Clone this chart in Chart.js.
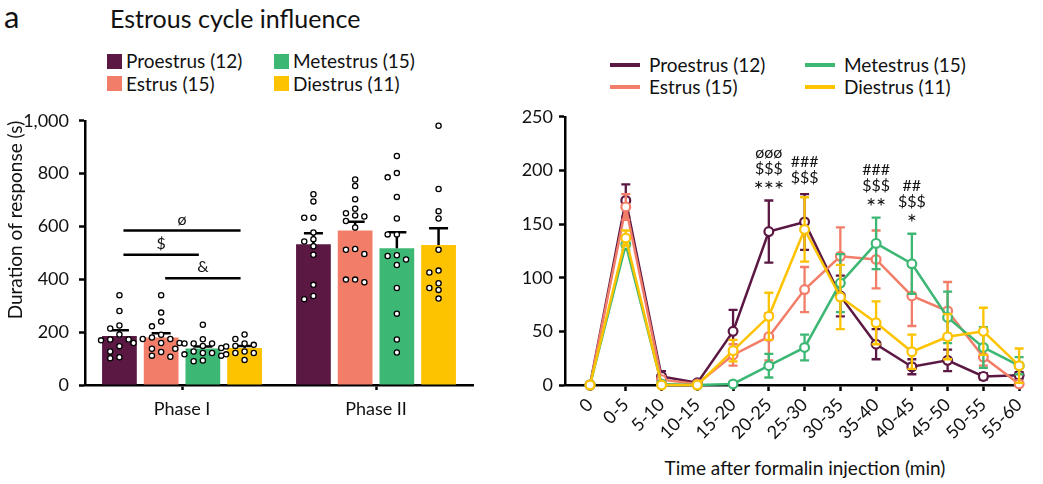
<!DOCTYPE html>
<html>
<head>
<meta charset="utf-8">
<script src="https://cdn.jsdelivr.net/npm/chart.js@4.4.1/dist/chart.umd.min.js"></script>
<style>
  body { margin: 0; width: 1043px; height: 484px; position: relative; overflow: hidden; background: #fff; font-family: Lato, sans-serif; color: #111; }
  .txt { position: absolute; white-space: nowrap; }
  .box { position: absolute; top: 100px; height: 384px; }
  #leftBox { left: 0; width: 500px; }
  #rightBox { left: 520px; width: 523px; }
  .leg { position: absolute; height: 22px; line-height: 22px; display: flex; align-items: center; font-size: 19px; white-space: nowrap; }
  .sq { width: 15px; height: 15px; margin-right: 4px; }
  .ln { width: 30px; height: 3.5px; margin-right: 9px; }
</style>
</head>
<body>
<div class="txt" style="left:4px; top:-1px; font-size:31px; line-height:34px;">a</div>
<div class="txt" style="left:110px; top:3px; font-size:25px; line-height:30px;">Estrous cycle influence</div>
<div class="txt" style="left:805px; top:456px; font-size:19px; line-height:24px; transform:translateX(-50%);">Time after formalin injection (min)</div>
<div class="box" id="leftBox"><canvas id="barChart"></canvas></div>
<div class="box" id="rightBox"><canvas id="lineChart"></canvas></div>
<script>
// ---------- data ----------
const stages = ['Proestrus (12)', 'Estrus (15)', 'Metestrus (15)', 'Diestrus (11)'];
const stageColors = ['#5b1843', '#f27d68', '#3db874', '#fdc300'];

// left panel: [Phase I, Phase II]
const phases = ['Phase I', 'Phase II'];
const meanProestrus = [185, 533];
const meanEstrus = [180, 585];
const meanMetestrus = [138, 518];
const meanDiestrus = [140, 530];
const semProestrus = [22, 41];
const semEstrus = [16, 33];
const semMetestrus = [8, 60];
const semDiestrus = [8, 63];

// individual animals
const dotsProestrus = [
  [340, 280, 225, 214, 191, 172, 172, 169, 147, 127, 105, 101],
  [722, 695, 633, 633, 577, 552, 543, 525, 493, 379, 337, 325]
];
const dotsEstrus = [
  [340, 274, 240, 222, 190, 180, 174, 174, 159, 159, 159, 137, 125, 111, 107],
  [778, 753, 703, 667, 650, 642, 638, 621, 596, 515, 512, 496, 399, 399, 389]
];
const dotsMetestrus = [
  [228, 173, 157, 157, 157, 148, 140, 137, 127, 121, 121, 116, 111, 93, 90],
  [867, 802, 786, 712, 630, 570, 570, 491, 488, 475, 454, 367, 270, 172, 123]
];
const dotsDiestrus = [
  [191, 174, 157, 152, 148, 146, 127, 121, 121, 116, 95],
  [981, 742, 658, 630, 512, 433, 426, 385, 367, 360, 327]
];

// significance bars (phase I): dataset pairs, symbol, height
const compPairs = [[0, 3], [0, 2], [1, 3]];
const compSymbols = ['ø', '$', '&'];
const compLevels = [585, 493, 404];

// right panel: time course
const timeLabels = ['0', '0-5', '5-10', '10-15', '15-20', '20-25', '25-30', '30-35', '35-40', '40-45', '45-50', '50-55', '55-60'];
const proestrus = [0, 172, 8, 2, 50, 143, 152, 83, 38, 17, 23, 8, 9];
const proestrusSem = [0, 15, 5, 2, 20, 29, 26, 19, 14, 7, 10, 3, 3];
const estrus = [0, 166, 5, 1, 28, 45, 89, 120, 117, 83, 69, 26, 1];
const estrusSem = [0, 12, 3, 1, 10, 22, 21, 27, 27, 28, 27, 8, 2];
const metestrus = [0, 131, 1, 0, 1, 18, 35, 95, 132, 113, 63, 35, 18];
const metestrusSem = [0, 5, 1, 0, 1, 11, 12, 27, 24, 28, 24, 19, 8];
const diestrus = [0, 137, 0, 0, 32, 64, 145, 82, 58, 31, 45, 50, 18];
const diestrusSem = [0, 7, 0, 0, 10, 22, 30, 30, 20, 16, 21, 22, 16];

const sigIndex = [5, 6, 8, 9];
const sigText = [['øøø', '$$$', '***'], ['###', '$$$'], ['###', '$$$', '**'], ['##', '$$$', '*']];

const barMeans = [meanProestrus, meanEstrus, meanMetestrus, meanDiestrus];
const barSems = [semProestrus, semEstrus, semMetestrus, semDiestrus];
const barDots = [dotsProestrus, dotsEstrus, dotsMetestrus, dotsDiestrus];
const lineVals = [proestrus, estrus, metestrus, diestrus];
const lineSems = [proestrusSem, estrusSem, metestrusSem, diestrusSem];
const lineOrder = [3, 2, 1, 0]; // diestrus drawn on top

// ---------- legends (html) ----------
function addLegend(x0, colGap, yCenter, rowGap, marker) {
  stages.forEach((name, i) => {
    const col = Math.floor(i / 2), row = i % 2;
    const item = document.createElement('div');
    item.className = 'leg';
    item.style.left = (x0 + col * colGap) + 'px';
    item.style.top = (yCenter - 11 + row * rowGap) + 'px';
    const sw = document.createElement('span');
    sw.className = marker;
    sw.style.background = stageColors[i];
    item.appendChild(sw);
    item.appendChild(document.createTextNode(name));
    document.body.appendChild(item);
  });
}
addLegend(107, 167, 61, 22.5, 'sq');
addLegend(610, 195, 65, 22, 'ln');

Chart.defaults.font.family = 'Lato';
Chart.defaults.font.size = 18;
Chart.defaults.color = '#111';

const axisGrid = { drawOnChartArea: false, offset: false, tickLength: 6, tickWidth: 2.5, tickColor: '#000' };
const axisBorder = { color: '#000', width: 2.5 };

// spread dots sideways when they overlap
function swarm(values, yScale) {
  const placed = [];
  const gap = 9.2;
  values.forEach(v => {
    const py = yScale.getPixelForValue(v);
    for (let k = 0; k < 30; k++) {
      const dx = (k % 2 ? -1 : 1) * Math.ceil(k / 2) * gap;
      if (placed.every(([px, qy]) => Math.hypot(px - dx, qy - py) >= 6.2)) {
        placed.push([dx, py]);
        break;
      }
    }
  });
  return placed;
}

const barExtras = {
  id: 'barExtras',
  afterDatasetsDraw(chart) {
    const { ctx } = chart;
    const y = chart.scales.y;
    ctx.save();
    chart.data.datasets.forEach((ds, di) => {
      chart.getDatasetMeta(di).data.forEach((bar, pi) => {
        const top = y.getPixelForValue(ds.data[pi] + ds.sem[pi]);
        ctx.strokeStyle = '#000';
        ctx.lineWidth = 2.5;
        ctx.beginPath();
        ctx.moveTo(bar.x, bar.y);
        ctx.lineTo(bar.x, top);
        ctx.moveTo(bar.x - 9.5, top);
        ctx.lineTo(bar.x + 9.5, top);
        ctx.stroke();
        swarm(ds.dots[pi], y).forEach(([dx, py]) => {
          ctx.beginPath();
          ctx.arc(bar.x + dx, py, 2.6, 0, Math.PI * 2);
          ctx.fillStyle = '#fff';
          ctx.fill();
          ctx.lineWidth = 1.3;
          ctx.stroke();
        });
      });
    });
    ctx.font = '16px Lato';
    ctx.fillStyle = '#111';
    ctx.textAlign = 'center';
    ctx.textBaseline = 'middle';
    compPairs.forEach(([a, b], k) => {
      const x1 = chart.getDatasetMeta(a).data[0].x + 4;
      const x2 = chart.getDatasetMeta(b).data[0].x - 4;
      const py = y.getPixelForValue(compLevels[k]);
      ctx.lineWidth = 2.5;
      ctx.beginPath();
      ctx.moveTo(x1, py);
      ctx.lineTo(x2, py);
      ctx.stroke();
      ctx.fillText(compSymbols[k], (x1 + x2) / 2, py - 11);
    });
    ctx.restore();
  }
};

new Chart(document.getElementById('barChart'), {
  type: 'bar',
  data: {
    labels: phases,
    datasets: stages.map((s, i) => ({
      label: s,
      data: barMeans[i],
      backgroundColor: stageColors[i],
      sem: barSems[i],
      dots: barDots[i]
    }))
  },
  options: {
    responsive: true,
    maintainAspectRatio: false,
    animation: false,
    layout: { padding: { top: 15, right: 27, left: 0, bottom: 0 } },
    datasets: { bar: { categoryPercentage: 0.86, barPercentage: 0.833 } },
    plugins: { legend: { display: false }, tooltip: { enabled: false } },
    scales: {
      x: {
        type: 'category',
        offset: true,
        ticks: { padding: 8, maxRotation: 0 },
        grid: { ...axisGrid, tickLength: 5 },
        border: axisBorder,
        afterFit: s => { s.height = 99; }
      },
      y: {
        min: 0,
        max: 1000,
        ticks: { stepSize: 200, padding: 10, callback: v => v.toLocaleString('en-US') },
        grid: axisGrid,
        border: axisBorder,
        title: { display: true, text: 'Duration of response (s)', align: 'end', font: { size: 19 }, padding: { top: 4, bottom: 0 } },
        afterFit: s => { s.width = 85; }
      }
    }
  },
  plugins: [barExtras]
});

const lineExtras = {
  id: 'lineExtras',
  beforeDatasetDraw(chart, args) {
    const ds = chart.data.datasets[args.index];
    const y = chart.scales.y;
    const ctx = chart.ctx;
    ctx.save();
    ctx.strokeStyle = ds.borderColor;
    ctx.lineWidth = 2.3;
    args.meta.data.forEach((pt, i) => {
      const s = ds.sem[i];
      if (!s) return;
      const v = ds.data[i].y;
      const t = y.getPixelForValue(v + s);
      const b = y.getPixelForValue(Math.max(v - s, 0));
      ctx.beginPath();
      ctx.moveTo(pt.x, t);
      ctx.lineTo(pt.x, b);
      ctx.moveTo(pt.x - 4.5, t);
      ctx.lineTo(pt.x + 4.5, t);
      ctx.moveTo(pt.x - 4.5, b);
      ctx.lineTo(pt.x + 4.5, b);
      ctx.stroke();
    });
    ctx.restore();
  },
  afterDatasetsDraw(chart) {
    const ctx = chart.ctx;
    const y = chart.scales.y;
    ctx.save();
    ctx.fillStyle = '#111';
    ctx.textAlign = 'center';
    ctx.textBaseline = 'middle';
    sigIndex.forEach((idx, k) => {
      let top = Infinity;
      chart.data.datasets.forEach(ds => {
        top = Math.min(top, y.getPixelForValue(ds.data[idx].y + ds.sem[idx]));
      });
      const x = chart.scales.x.getPixelForValue(idx);
      const lines = sigText[k];
      lines.forEach((t, j) => {
        const cy = top - 16 - (lines.length - 1 - j) * 16;
        const star = t[0] === '*';
        ctx.font = star ? '24px Lato' : '16px Lato';
        ctx.fillText(t, x, cy + (star ? 6 : 0));
      });
    });
    ctx.restore();
  }
};

new Chart(document.getElementById('lineChart'), {
  type: 'line',
  data: {
    datasets: stages.map((s, i) => ({
      label: s,
      data: lineVals[i].map((v, j) => ({ x: j, y: v })),
      sem: lineSems[i],
      borderColor: stageColors[i],
      backgroundColor: '#fff',
      borderWidth: 2.5,
      pointRadius: 4.4,
      pointBorderWidth: 2.2,
      pointBackgroundColor: '#fff',
      tension: 0,
      clip: false,
      order: lineOrder[i]
    }))
  },
  options: {
    responsive: true,
    maintainAspectRatio: false,
    animation: false,
    layout: { padding: { top: 15, right: 21, left: 0, bottom: 0 } },
    plugins: { legend: { display: false }, tooltip: { enabled: false } },
    scales: {
      x: {
        type: 'linear',
        min: -0.7,
        max: 12.08,
        afterBuildTicks: s => { s.ticks = timeLabels.map((t, i) => ({ value: i })); },
        ticks: { callback: v => timeLabels[v], minRotation: 45, maxRotation: 45, autoSkip: false, padding: 3 },
        grid: axisGrid,
        border: axisBorder,
        afterFit: s => { s.height = 99; }
      },
      y: {
        min: 0,
        max: 250,
        ticks: { stepSize: 50, padding: 6 },
        grid: axisGrid,
        border: axisBorder,
        afterFit: s => { s.width = 45; }
      }
    }
  },
  plugins: [lineExtras]
});
</script>
</body>
</html>
